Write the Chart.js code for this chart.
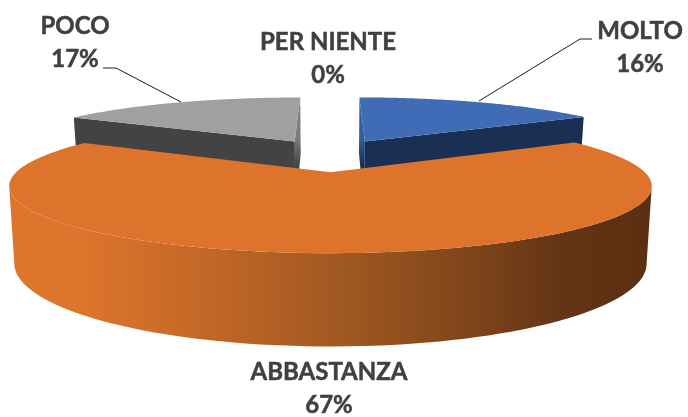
<!doctype html>
<html lang="en">
  <head>
    <meta charset="UTF-8" />
    <title>Pie</title>
    <script src="https://cdn.jsdelivr.net/npm/chart.js"></script>
    <style>
      body { margin: 0; background: #fff; }
    </style>
  </head>
  <body>
    <canvas id="pieChart" width="688" height="417"></canvas>
    <script>
      var categories = ["MOLTO", "ABBASTANZA", "POCO", "PER NIENTE"];
      var percentages = [16.4, 67, 16.6, 0];
      var topColors = ["#3f6cb5", "#de742b", "#a0a0a0", "#ffc000"];
      var wallColors = ["#1a2f54", "#a55a22", "#434343", "#7f6000"];
      var sliverColors = ["#35609f", "#a55a22", "#7d7d7d", "#7f6000"];

      // label anchor for each category (name line, the percent goes below it)
      var labelPos = [[640, 31], [329, 372], [75, 26], [328, 42]];
      var leaderLines = [
        [[479, 101], [580, 39], [592, 39]],
        [[103, 68], [116, 68], [181, 102]],
      ];

      // perspective fitted by eye to the reference
      var view = { cx: 330, hz: -140, H: 295, W: 70, D: 5.15, F: 297, shrink: 0.016, explodeU: 0.25, explodeV: 0.286 };

      function project(u, v, z) {
        var s = view.D / (view.D + v);
        return [
          view.cx + view.F * u * s * (1 - z * view.shrink),
          view.hz + (view.H + z * view.W) * s,
        ];
      }

      function slicePoint(arc, theta, r, z) {
        var mid = (arc.startAngle + arc.endAngle) / 2 + Math.PI / 2;
        var u = r * Math.sin(theta) + view.explodeU * Math.sin(mid);
        var v = r * Math.cos(theta) + view.explodeV * Math.cos(mid);
        return project(u, v, z);
      }

      function rimPoints(arc, z) {
        var a = arc.startAngle + Math.PI / 2;
        var b = arc.endAngle + Math.PI / 2;
        var pts = [];
        for (var i = 0; i <= 120; i++) {
          pts.push(slicePoint(arc, a + ((b - a) * i) / 120, 1, z));
        }
        return pts;
      }

      function fillPoly(ctx, pts, fill) {
        ctx.beginPath();
        pts.forEach(function (p, i) {
          if (i === 0) ctx.moveTo(p[0], p[1]);
          else ctx.lineTo(p[0], p[1]);
        });
        ctx.closePath();
        ctx.fillStyle = fill;
        ctx.fill();
      }

      var pie3d = {
        id: "pie3d",
        beforeDatasetsDraw: function (chart) {
          var ctx = chart.ctx;
          var arcs = chart.getDatasetMeta(0).data;
          ctx.save();

          // back slices first, the big front one goes over them
          [0, 2, 1].forEach(function (i) {
            var arc = arcs[i];
            var a = arc.startAngle + Math.PI / 2;
            var apex0 = slicePoint(arc, a, 0, 0);
            var apex1 = slicePoint(arc, a, 0, 1);
            var top = rimPoints(arc, 0);
            var bottom = rimPoints(arc, 1);

            if (i === 1) {
              var wall = ctx.createLinearGradient(10, 0, 650, 0);
              wall.addColorStop(0, "#de752c");
              wall.addColorStop(0.11, "#de752c");
              wall.addColorStop(0.3, "#c36827");
              wall.addColorStop(0.5, "#a35a22");
              wall.addColorStop(0.73, "#7d4419");
              wall.addColorStop(0.86, "#633415");
              wall.addColorStop(1, "#5c2f12");
              // outer wall runs between the widest points of the rim
              var xs = top.map(function (p) { return p[0]; });
              var right = xs.indexOf(Math.max.apply(null, xs));
              var left = xs.indexOf(Math.min.apply(null, xs));
              var frontTop = top.slice(right, left + 1);
              var frontBottom = bottom.slice(right, left + 1).reverse();
              fillPoly(ctx, frontTop.concat(frontBottom), wall);
            } else {
              // the two straight cut faces
              var startEdge = i === 0 ? 0 : top.length - 1;
              var otherEdge = i === 0 ? top.length - 1 : 0;
              var sliver = ctx.createLinearGradient(0, 97, 0, 165);
              sliver.addColorStop(0, sliverColors[i]);
              sliver.addColorStop(0.6, sliverColors[i]);
              sliver.addColorStop(1, wallColors[i]);
              fillPoly(ctx, [top[startEdge], apex0, apex1, bottom[startEdge]], sliver);
              fillPoly(ctx, [top[otherEdge], apex0, apex1, bottom[otherEdge]], wallColors[i]);
            }
            fillPoly(ctx, [apex0].concat(top), arc.options.backgroundColor);
          });

          // leader lines
          ctx.strokeStyle = "#1a1a1a";
          ctx.lineWidth = 1;
          leaderLines.forEach(function (line) {
            ctx.beginPath();
            line.forEach(function (p, i) {
              if (i === 0) ctx.moveTo(p[0], p[1]);
              else ctx.lineTo(p[0], p[1]);
            });
            ctx.stroke();
          });

          // labels
          ctx.fillStyle = "#404040";
          ctx.strokeStyle = "#404040";
          ctx.lineWidth = 0.5;
          ctx.font = "bold 24px Lato";
          ctx.textAlign = "center";
          ctx.textBaseline = "middle";
          chart.data.labels.forEach(function (name, i) {
            var p = labelPos[i];
            var pct = Math.round(chart.data.datasets[0].data[i]) + "%";
            ctx.fillText(name, p[0], p[1]);
            ctx.strokeText(name, p[0], p[1]);
            ctx.fillText(pct, p[0], p[1] + 33);
            ctx.strokeText(pct, p[0], p[1] + 33);
          });

          ctx.restore();
          return false;
        },
      };

      var ctx1 = document.getElementById("pieChart").getContext("2d");
      var pieChart = new Chart(ctx1, {
        type: "pie",
        data: {
          labels: categories,
          datasets: [
            {
              data: percentages,
              backgroundColor: topColors,
            },
          ],
        },
        options: {
          responsive: false,
          animation: false,
          plugins: {
            legend: { display: false },
            tooltip: { enabled: false },
          },
        },
        plugins: [pie3d],
      });
    </script>
  </body>
</html>
